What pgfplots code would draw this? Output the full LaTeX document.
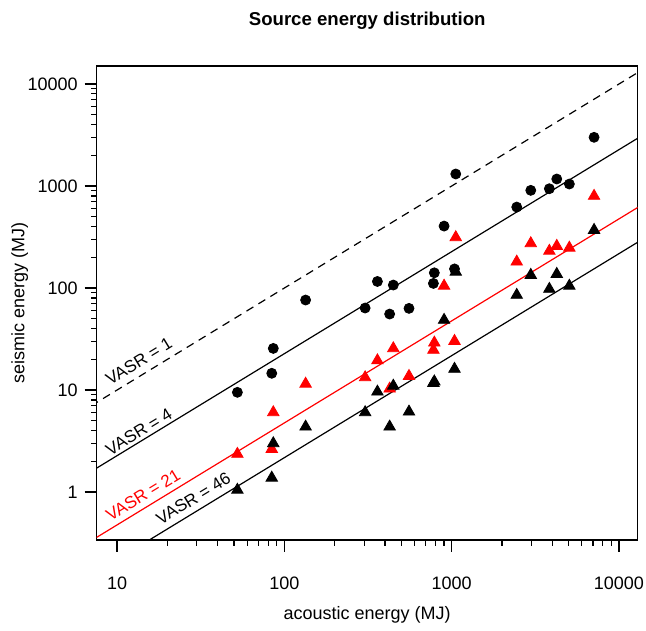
\documentclass[border=0pt]{standalone}
\usepackage{pgfplots}
\pgfplotsset{compat=1.18}
\usepackage{fontspec}
\setmainfont{Liberation Sans}

\pgfplotstableread{
x y
52.4 9.5
84.1 14.6
85.9 25.6
134 76.3
304 63.7
360 116
426 55.6
448 107
556 63.2
778 111
788 141
901 405
1040 154
1058 1312
2449 622
2971 907
3837 941
4248 1172
5051 1046
7099 3003
}\circles

\pgfplotstableread{
x y
52.4 2.36
84.1 2.64
85.9 6.04
134 11.5
304 13.3
360 19.5
426 10.3
448 25.6
556 13.7
778 24.7
788 29.1
901 105
1040 30.2
1058 314
2449 181
2971 274
3837 231
4248 258
5051 248
7099 798
}\redtri

\pgfplotstableread{
x y
52.4 1.05
84.1 1.38
85.9 3.0
134 4.37
304 6.04
360 9.62
426 4.37
448 11.0
556 6.13
778 11.7
788 12.1
901 48.6
1040 16.1
1058 144
2449 85.4
2971 134
3837 97.8
4248 137
5051 105
7099 370
}\blacktri

\begin{document}
\begin{tikzpicture}
\begin{axis}[
  scale only axis, width=270.5pt, height=237pt,
  xmode=log, ymode=log,
  xmin=7.56, xmax=12940, ymin=0.339, ymax=15020,
  xtick={10,100,1000,10000}, xticklabels={10,100,1000,10000},
  ytick={1,10,100,1000,10000}, yticklabels={1,10,100,1000,10000},
  minor xtick={}, minor ytick={},
  xtick pos=bottom, ytick pos=left,
  tick align=outside, major tick length=6pt,
  every tick/.style={black, line width=0.6pt},
  axis line style={line width=0.7pt},
  tick label style={font=\fontsize{9}{11}\selectfont},
  xticklabel style={yshift=-9pt},
  every axis title shift=0pt,
  title={\bfseries Source energy distribution},
  title style={font=\fontsize{9.3}{11}\selectfont, at={(axis description cs:0.5,1.095)}, anchor=center},
  xlabel={acoustic energy (MJ)},
  ylabel={seismic energy (MJ)},
  xlabel style={font=\fontsize{9}{11}\selectfont, at={(axis description cs:0.5,-0.158)}, anchor=center},
  ylabel style={font=\fontsize{9}{11}\selectfont, at={(axis description cs:-0.1423,0.5)}, anchor=center},
]
\addplot[black, line width=0.6pt, dash pattern=on 4pt off 3pt] coordinates {(7,7) (14000,14000)};
\addplot[black, line width=0.6pt] coordinates {(7,1.591) (14000,3182)};
\addplot[red, line width=0.6pt] coordinates {(7,0.3333) (14000,666.7)};
\addplot[black, line width=0.6pt] coordinates {(7,0.1522) (14000,304.3)};
\addplot[only marks, mark=*, mark size=2.5pt, black] table[x=x,y=y] {\circles};
\addplot[only marks, mark=triangle*, mark size=3.3pt, red] table[x=x,y=y] {\redtri};
\addplot[only marks, mark=triangle*, mark size=3.3pt, black] table[x=x,y=y] {\blacktri};
\node[rotate=31.4, font=\fontsize{8.5}{10}\selectfont] at (axis cs:13.5,19.2) {VASR = 1};
\node[rotate=31.4, font=\fontsize{8.5}{10}\selectfont] at (axis cs:13.5,3.9) {VASR = 4};
\node[rotate=31.4, font=\fontsize{8.5}{10}\selectfont, red] at (axis cs:14.3,0.935) {VASR = 21};
\node[rotate=31.4, font=\fontsize{8.5}{10}\selectfont] at (axis cs:28.6,0.867) {VASR = 46};
\end{axis}
\pgfresetboundingbox
\path[use as bounding box] (current axis.south west) ++(-48.35pt,-45pt) rectangle ++(323pt,315pt);
\end{tikzpicture}
\end{document}
